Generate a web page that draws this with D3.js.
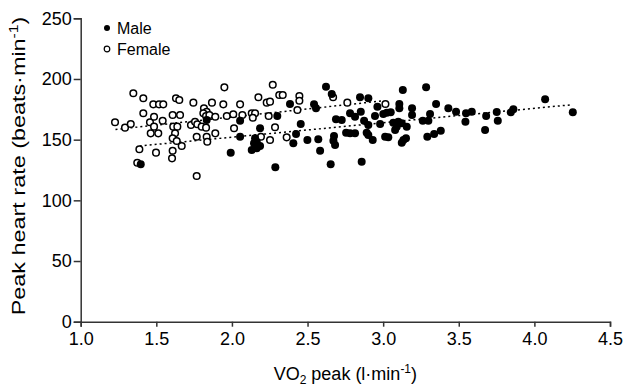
<!DOCTYPE html>
<html>
<head>
<meta charset="utf-8">
<script src="https://cdn.jsdelivr.net/npm/d3@7"></script>
<style>
  body { margin: 0; background: #fff; }
  text { font-family: "Liberation Sans", Arial, sans-serif; fill: #000; }
  .axis path, .axis line { stroke: #333; stroke-width: 1.5; }
</style>
</head>
<body>
<svg width="627" height="386"></svg>
<script>
// VO2 peak (l/min) and peak HR (beats/min)
const maleVO2 = [1.397, 1.833, 2.054, 2.054, 1.992, 2.153, 2.164, 2.146, 2.186, 2.164, 2.131, 2.186,
  2.287, 2.300, 2.384, 2.424, 2.406, 2.499, 2.455, 2.543, 2.556, 2.571, 2.583, 2.622, 2.660, 2.675,
  2.671, 2.682, 2.653, 2.688, 2.726, 2.755, 2.781, 2.814, 2.781, 2.814, 2.852, 2.847, 2.902, 2.858,
  2.874, 2.902, 2.891, 2.902, 2.931, 2.946, 2.962, 2.980, 3.001, 3.024, 3.050, 3.013, 3.034, 3.067,
  3.100, 3.123, 3.090, 3.079, 3.156, 3.107, 3.107, 3.130, 3.134, 3.151, 3.123, 3.191, 3.191, 3.262,
  3.299, 3.284, 3.292, 3.310, 3.337, 3.350, 3.381, 3.431, 3.482, 3.548, 3.586, 3.544, 3.681, 3.674,
  3.751, 3.758, 3.844, 3.861, 4.071, 4.254]
const maleHR = [129.7, 166.2, 165.6, 152.4, 139.3, 151.1, 148.3, 147.0, 144.8, 142.9, 141.5, 159.4,
  127.2, 169.5, 179.4, 154.7, 147.0, 149.7, 162.9, 179.1, 175.8, 150.3, 140.9, 193.6, 187.6, 153.0,
  149.1, 145.6, 129.7, 166.8, 166.2, 155.7, 155.2, 155.2, 171.7, 168.9, 173.0, 184.9, 184.1, 131.8,
  165.6, 162.1, 155.7, 153.8, 149.7, 169.5, 177.2, 162.9, 171.1, 172.2, 172.5, 152.4, 151.9, 164.0,
  164.8, 163.5, 160.7, 158.0, 160.7, 179.4, 175.8, 190.9, 149.7, 151.1, 147.5, 175.8, 170.3, 165.6,
  165.6, 193.1, 152.4, 171.1, 154.7, 179.4, 157.4, 175.8, 173.0, 171.7, 173.0, 164.8, 169.5, 158.0,
  172.8, 165.6, 172.5, 175.0, 183.3, 172.5]

const femaleVO2 = [1.227, 1.293, 1.331, 1.348, 1.388, 1.374, 1.414, 1.414, 1.458, 1.485, 1.463, 1.513,
  1.542, 1.485, 1.480, 1.518, 1.546, 1.498, 1.608, 1.657, 1.630, 1.652, 1.612, 1.639, 1.624, 1.608,
  1.635, 1.668, 1.608, 1.604, 1.745, 1.729, 1.756, 1.771, 1.800, 1.829, 1.767, 1.833, 1.837, 1.767,
  1.815, 1.833, 1.811, 1.829, 1.851, 1.868, 1.890, 1.890, 1.950, 1.943, 1.966, 2.009, 2.014, 2.054,
  2.069, 2.131, 2.153, 2.138, 2.175, 2.192, 2.230, 2.252, 2.243, 2.252, 2.270, 2.313, 2.336, 2.285,
  2.362, 2.433, 2.446, 2.446, 2.669, 2.763, 3.015]
const femaleHR = [164.3, 159.9, 162.9, 188.2, 142.1, 131.0, 184.1, 171.7, 164.3, 160.7, 155.2, 155.2,
  165.6, 168.9, 179.1, 179.1, 179.1, 139.3, 170.3, 170.3, 184.1, 182.7, 160.7, 160.7, 155.2, 151.1,
  148.9, 144.8, 140.9, 134.6, 180.5, 162.1, 164.8, 162.7, 160.7, 159.9, 152.4, 152.4, 148.3, 120.1,
  175.8, 173.0, 171.7, 169.5, 170.3, 180.5, 168.9, 155.2, 193.1, 179.1, 169.5, 170.9, 159.4, 179.1,
  170.3, 171.7, 171.7, 168.1, 184.9, 152.4, 180.5, 181.3, 169.5, 149.7, 195.3, 186.8, 186.8, 160.2,
  151.9, 174.4, 186.0, 182.1, 184.9, 180.5, 179.4]

// regression line end points [x1, x2], [y1, y2]
const maleFitX = [1.39, 4.25]
const maleFitY = [144.8, 178.8]
const femaleFitX = [1.23, 3.0]
const femaleFitY = [158.4, 182.0]

const xTicks = [1.0, 1.5, 2.0, 2.5, 3.0, 3.5, 4.0, 4.5]
const yTicks = [0, 50, 100, 150, 200, 250]

const svg = d3.select('svg')
const width = +svg.attr('width')
const height = +svg.attr('height')
const margin = { top: 18.3, right: 17, bottom: 64.3, left: 80.7 }
const innerWidth = width - margin.left - margin.right
const innerHeight = height - margin.top - margin.bottom

const g = svg.append('g')
  .attr('transform', `translate(${margin.left},${margin.top})`)

const xScale = d3.scaleLinear().domain([1, 4.5]).range([0, innerWidth])
const yScale = d3.scaleLinear().domain([0, 250]).range([innerHeight, 0])

const xAxisG = g.append('g')
  .attr('class', 'axis')
  .attr('transform', `translate(0,${innerHeight})`)
  .call(d3.axisBottom(xScale).tickValues(xTicks).tickFormat(d3.format('.1f'))
    .tickSize(5).tickPadding(6))

const yAxisG = g.append('g')
  .attr('class', 'axis')
  .call(d3.axisLeft(yScale).tickValues(yTicks).tickSize(7).tickPadding(2))

xAxisG.attr('font-size', 18).attr('font-family', '"Liberation Sans", Arial, sans-serif')
yAxisG.attr('font-size', 18).attr('font-family', '"Liberation Sans", Arial, sans-serif')

// trend lines
const line = d3.line().x(d => xScale(d[0])).y(d => yScale(d[1]))
const fits = [d3.zip(femaleFitX, femaleFitY), d3.zip(maleFitX, maleFitY)]
g.selectAll('path.fit').data(fits)
  .enter().append('path')
  .attr('class', 'fit')
  .attr('d', line)
  .attr('fill', 'none')
  .attr('stroke', '#000')
  .attr('stroke-width', 1.5)
  .attr('stroke-dasharray', '2,3')

// points
g.selectAll('circle.female').data(d3.zip(femaleVO2, femaleHR))
  .enter().append('circle')
  .attr('class', 'female')
  .attr('cx', d => xScale(d[0]))
  .attr('cy', d => yScale(d[1]))
  .attr('r', 3.3)
  .attr('fill', '#fff')
  .attr('stroke', '#000')
  .attr('stroke-width', 1.5)

g.selectAll('circle.male').data(d3.zip(maleVO2, maleHR))
  .enter().append('circle')
  .attr('class', 'male')
  .attr('cx', d => xScale(d[0]))
  .attr('cy', d => yScale(d[1]))
  .attr('r', 4)
  .attr('fill', '#000')

// legend
const legend = svg.append('g').attr('transform', 'translate(107,28)')
legend.append('circle').attr('r', 3).attr('fill', '#000')
legend.append('text').attr('x', 10).attr('y', 6).style('font-size', '16px').text('Male')
legend.append('circle').attr('cy', 21).attr('r', 2.8)
  .attr('fill', '#fff').attr('stroke', '#000').attr('stroke-width', 1.2)
legend.append('text').attr('x', 10).attr('y', 27).style('font-size', '16px').text('Female')

// axis titles
const xTitle = svg.append('text')
  .attr('x', margin.left + innerWidth / 2)
  .attr('y', 380)
  .attr('text-anchor', 'middle')
  .style('font-size', '18px')
xTitle.append('tspan').text('VO')
xTitle.append('tspan').attr('dy', 4).style('font-size', '12px').text('2')
xTitle.append('tspan').attr('dy', -4).text(' peak (l·min')
xTitle.append('tspan').attr('dy', -7).style('font-size', '12px').text('-1')
xTitle.append('tspan').attr('dy', 7).text(')')

// the y title in the reference is drawn long and narrow
const yTitle = svg.append('text')
  .attr('transform', 'translate(25,166) rotate(-90) scale(1.3,1)')
  .attr('text-anchor', 'middle')
  .style('font-size', '18px')
yTitle.append('tspan').text('Peak heart rate (beats·min')
yTitle.append('tspan').attr('dy', -7).style('font-size', '12px').text('-1')
yTitle.append('tspan').attr('dy', 7).text(')')
</script>
</body>
</html>
